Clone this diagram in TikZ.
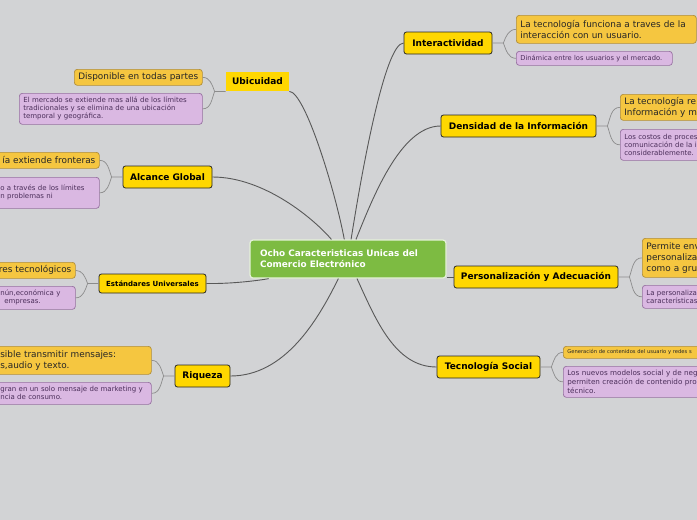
\documentclass[tikz,border=0pt]{standalone}
\usepackage{fontspec}
\setmainfont{DejaVu Sans}
\usepackage{xcolor}
\usepackage{tikz}
\usetikzlibrary{positioning}
\definecolor{canvasgray}{RGB}{210,211,213}
\definecolor{rootgreen}{RGB}{125,187,66}
\definecolor{branchgold}{RGB}{255,215,0}
\definecolor{ideaorange}{RGB}{245,198,64}
\definecolor{ideaedge}{RGB}{176,142,58}
\definecolor{notepurple}{RGB}{218,184,226}
\definecolor{noteedge}{RGB}{150,112,160}
\definecolor{notetext}{RGB}{75,46,90}
\definecolor{linkgray}{RGB}{88,88,88}
\definecolor{forkgray}{RGB}{140,140,140}

\tikzset{
  root/.style={fill=rootgreen, draw=white!80!rootgreen, line width=1.2pt, rounded corners=3pt,
    minimum width=196pt, minimum height=38pt, text width=176pt, align=left, text=white,
    font=\fontsize{8.9}{11}\selectfont\bfseries, inner sep=0pt},
  branch/.style={fill=branchgold, draw=black!85, line width=0.8pt, rounded corners=2.5pt,
    minimum height=22pt, inner sep=0pt, font=\fontsize{9}{10}\selectfont\bfseries},
  idea/.style={fill=ideaorange, draw=ideaedge, line width=0.7pt, rounded corners=3pt, anchor=north west,
    align=left, inner xsep=4pt, inner ysep=0pt, text=black!85, font=\fontsize{8.9}{10.8}\selectfont},
  note/.style={fill=notepurple, draw=noteedge, line width=0.7pt, rounded corners=3pt, anchor=north west,
    align=left, inner xsep=4pt, inner ysep=0pt, text=notetext, font=\fontsize{7}{8}\selectfont},
  link/.style={draw=linkgray, line width=0.9pt},
  fork/.style={draw=forkgray, line width=0.7pt}
}

\begin{document}
\begin{tikzpicture}[x=1pt, y=-1pt]
  \fill[canvasgray] (0,0) rectangle (697,520);
  \useasboundingbox (0,0) rectangle (697,520);
  \clip (0,0) rectangle (697,520);

  \node[root] (raiz) at (348,259) {Ocho Caracteristicas Unicas del\\Comercio Electrónico};

  \node[branch, minimum width=88pt] (interactividad) at (448,43) {Interactividad};
  \node[branch, minimum width=155pt] (densidad) at (518.5,126) {Densidad de la Información};
  \node[branch, minimum width=164pt] (personalizacion) at (536,277) {Personalización y Adecuación};
  \node[branch, minimum width=103pt] (social) at (488.5,367) {Tecnología Social};
  \node[branch, draw=none, rounded corners=0pt, minimum width=63pt, minimum height=19pt] (ubicuidad) at (257.5,81.5) {Ubicuidad};
  \node[branch, minimum width=89pt] (alcance) at (167.5,177) {Alcance Global};
  \node[branch, minimum width=107pt, minimum height=19pt, font=\fontsize{7}{8}\selectfont\bfseries] (estandares) at (152.5,283.5) {Estándares Universales};
  \node[branch, minimum width=55pt] (riqueza) at (202.5,376) {Riqueza};

  \node[idea, text width=120pt, minimum height=16pt] (ubiA) at (74,69) {Disponible en todas partes};
  \node[note, text width=175pt, minimum height=31pt] (ubiB) at (19,93) {El mercado se extiende mas allá de los límites\\tradicionales y se elimina de una ubicación\\temporal y geográfica.};
  \node[idea, text width=115pt, minimum height=16pt, align=right] (alcA) at (-24,152) {ía extiende fronteras};
  \node[note, text width=95pt, minimum height=31pt] (alcB) at (-4,177) {o a través de los límites\\n problemas ni};
  \node[idea, text width=91pt, minimum height=16pt, align=right] (estA) at (-24,262) {res tecnológicos};
  \node[note, text width=71pt, minimum height=23pt] (estB) at (-4,286) {nún,económica y\\\hspace*{4pt}empresas.};
  \node[idea, text width=147pt, minimum height=28pt] (riqA) at (-4,346) {sible transmitir mensajes:\\s,audio y texto.};
  \node[note, text width=147pt, minimum height=22pt] (riqB) at (-4,382) {gran en un solo mensaje de marketing y\\ncia de consumo.};

  \node[idea, text width=172pt, minimum height=28pt] (intA) at (516,15) {La tecnología funciona a traves de la\\interacción con un usuario.};
  \node[note, text width=148pt, minimum height=14pt, font=\fontsize{6.7}{8}\selectfont] (intB) at (516,51) {Dinámica entre los usuarios y el mercado.};
  \node[idea, text width=100pt, minimum height=26pt] (denA) at (620,94) {La tecnología re\\Información y m};
  \node[note, text width=100pt, minimum height=31pt] (denB) at (620,129) {Los costos de proces\\comunicación de la i\\considerablemente.};
  \node[idea, text width=80pt, minimum height=39pt] (perA) at (642,238) {Permite env\\personaliza\\como a gru};
  \node[note, text width=80pt, minimum height=23pt] (perB) at (642,285) {La personaliza\\características};
  \node[idea, text width=160pt, minimum height=12pt, font=\fontsize{5.2}{6}\selectfont] (tecA) at (563,346) {Generación de contenidos del usuario y redes s};
  \node[note, text width=160pt, minimum height=31pt, font=\fontsize{7.2}{8.7}\selectfont] (tecB) at (563,366) {Los nuevos modelos social y de nego\\permiten creación de contenido prop\\técnico.};

  \draw[link] (ubicuidad.south east) .. controls (305,92) and (335,190) .. (raiz);
  \draw[link] (interactividad.west) .. controls (385,43) and (362,170) .. (raiz);
  \draw[link] (densidad.west) .. controls (400,126) and (372,200) .. (raiz);
  \draw[link] (alcance.east) .. controls (265,177) and (315,220) .. (raiz);
  \draw[link] (estandares.east) .. controls (235,284) and (265,279.5) .. (raiz);
  \draw[link] (riqueza.east) .. controls (285,376) and (318,320) .. (raiz);
  \draw[link] (social.west) .. controls (395,367) and (376,320) .. (raiz);
  \draw[link] (personalizacion.west) -- (personalizacion.west -| raiz.east);

  \foreach \b/\u/\d in {interactividad/intA/intB, densidad/denA/denB, personalizacion/perA/perB, social/tecA/tecB} {
    \draw[fork] (\b.east) -- ++(11,0) coordinate (f) to[out=70, in=180] (\u.west);
    \draw[fork] (f) to[out=-70, in=180] (\d.west);
  }
  \foreach \b/\u/\d in {alcance/alcA/alcB, estandares/estA/estB, riqueza/riqA/riqB} {
    \draw[fork] (\b.west) -- ++(-11,0) coordinate (f) to[out=110, in=0] (\u.east);
    \draw[fork] (f) to[out=250, in=0] (\d.east);
  }
  \draw[fork] (ubicuidad.south west) -- ++(-11,0) coordinate (f) to[out=110, in=0] (ubiA.east);
  \draw[fork] (f) to[out=250, in=0] (ubiB.east);
\end{tikzpicture}
\end{document}
